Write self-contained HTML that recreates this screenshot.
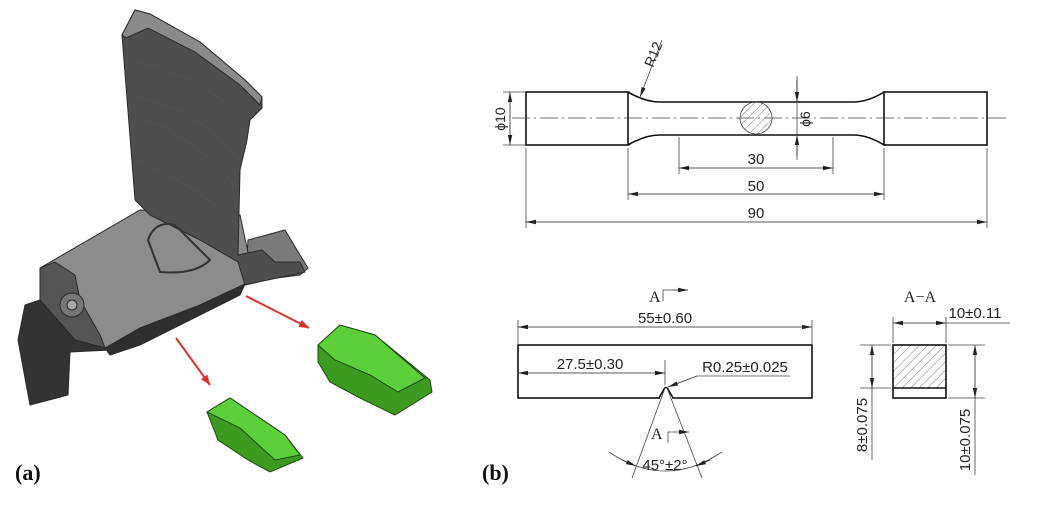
<!DOCTYPE html>
<html><head><meta charset="utf-8"><style>
html,body{margin:0;padding:0;background:#fff;width:1048px;height:515px;overflow:hidden}
svg{display:block}
text{font-family:"Liberation Sans",sans-serif;fill:#222}
.s{font-family:"Liberation Serif",serif}
</style></head><body>
<svg width="1048" height="515" viewBox="0 0 1048 515" xmlns="http://www.w3.org/2000/svg">
<defs>
<marker id="ar" viewBox="0 0 10 6" refX="10" refY="3" markerWidth="10" markerHeight="6" orient="auto-start-reverse" markerUnits="userSpaceOnUse"><path d="M0,0.8 L10,3 L0,5.2 z" fill="#222"/></marker>
<marker id="rr" viewBox="0 0 10 8" refX="10" refY="4" markerWidth="10" markerHeight="8" orient="auto" markerUnits="userSpaceOnUse"><path d="M0,0 L10,4 L0,8 z" fill="#e0302a"/></marker>
<pattern id="h" width="6" height="6" patternUnits="userSpaceOnUse" patternTransform="rotate(45)"><line x1="0" y1="0" x2="0" y2="6" stroke="#555" stroke-width="0.8"/></pattern>
</defs>

<!-- (a) 3D part -->
<g stroke="#2a2a2a" stroke-width="1">
<path d="M248,240 L285,230 L300,255 L308,268 L300,275 L245,282 Z" fill="#7a7a7a"/>
<path d="M40,268 L140,210 L240,215 L250,262 L245,284 L200,305 L135,335 L105,348 L72,338 L40,300 Z" fill="#8c8c8c"/>
<path d="M122,35 L135,10 L150,14 L200,42 L245,80 L262,97 L262,108 L250,120 L247,140 L240,170 L238,255 L262,250 L275,262 L300,262 L305,272 L245,285 L238,262 L200,240 L150,215 L135,200 Z" fill="#4e4e4e"/>
<path d="M122,35 L135,10 L150,14 L200,42 L245,80 L262,97 L260,105 L240,85 L195,52 L148,28 L126,38 Z" fill="#8a8a8a"/>
<path d="M40,300 L40,268 L55,262 L75,275 L80,300 L100,335 L105,348 L75,340 Z" fill="#555"/>
<path d="M18,340 L25,305 L40,300 L75,340 L105,348 L110,350 L70,352 L68,395 L30,405 Z" fill="#333"/>
<path d="M105,348 L140,328 L200,305 L245,284 L240,295 L200,315 L140,345 L110,355 Z" fill="#2e2e2e"/>
<path d="M148,240 Q155,220 175,225 L210,260 Q195,275 160,272 Z" fill="none" stroke="#333" stroke-width="2"/>
<circle cx="72" cy="305" r="12" fill="#777"/><circle cx="72" cy="305" r="5" fill="#aaa"/>
</g>
<g stroke="#555" stroke-width="0.8" fill="none">
<path d="M132,60 Q200,75 245,120"/><path d="M132,95 Q200,110 240,160"/><path d="M134,115 Q195,135 238,190"/><path d="M136,160 Q190,180 238,225"/>
</g>
<!-- green pieces -->
<g stroke="#1e4a10" stroke-width="1">
<path d="M318,345 L340,325 L375,335 L430,380 L432,392 L395,415 L360,398 L330,382 L318,362 Z" fill="#3c9a1e"/>
<path d="M318,345 L340,325 L375,335 L425,378 L398,392 L370,375 L335,360 Z" fill="#5ccf3a"/>
<path d="M207,412 L230,398 L285,435 L303,458 L270,472 L248,460 L218,440 Z" fill="#3c9a1e"/>
<path d="M207,412 L230,398 L285,435 L300,455 L275,460 L240,428 Z" fill="#5ccf3a"/>
</g>
<line x1="246" y1="296" x2="309" y2="328" stroke="#e0302a" stroke-width="2" marker-end="url(#rr)"/>
<line x1="176" y1="338" x2="210" y2="385" stroke="#e0302a" stroke-width="2" marker-end="url(#rr)"/>
<text x="15" y="480" class="s" font-size="22" font-weight="bold" style="fill:#111">(a)</text>
<text x="482" y="480" class="s" font-size="22" font-weight="bold" style="fill:#111">(b)</text>

<!-- top specimen -->
<g stroke="#111" stroke-width="1.6" fill="none">
<rect x="526" y="92" width="102" height="53"/>
<rect x="884" y="92" width="103" height="53"/>
<path d="M628,92 Q645,102 660,102 L853,102 Q868,102 884,92"/>
<path d="M628,145 Q645,135 660,135 L853,135 Q868,135 884,145"/>
</g>
<circle cx="756" cy="118" r="16" fill="url(#h)" stroke="#444" stroke-width="0.8"/>
<line x1="512" y1="118" x2="1008" y2="118" stroke="#444" stroke-width="0.8" stroke-dasharray="18,4,2,4"/>
<g stroke="#444" stroke-width="0.8" fill="none">
<line x1="503" y1="92" x2="526" y2="92"/><line x1="503" y1="145" x2="526" y2="145"/>
<line x1="526" y1="148" x2="526" y2="228"/><line x1="987" y1="148" x2="987" y2="228"/>
<line x1="628" y1="148" x2="628" y2="200"/><line x1="884" y1="148" x2="884" y2="200"/>
<line x1="679" y1="137" x2="679" y2="174"/><line x1="833" y1="137" x2="833" y2="174"/>
<line x1="797" y1="76" x2="797" y2="160"/>
<line x1="662" y1="40" x2="640" y2="97" marker-end="url(#ar)"/>
</g>
<g stroke="#222" stroke-width="0.8">
<line x1="510" y1="92" x2="510" y2="145" marker-start="url(#ar)" marker-end="url(#ar)"/>
<line x1="679" y1="168" x2="833" y2="168" marker-start="url(#ar)" marker-end="url(#ar)"/>
<line x1="628" y1="194" x2="884" y2="194" marker-start="url(#ar)" marker-end="url(#ar)"/>
<line x1="526" y1="222" x2="987" y2="222" marker-start="url(#ar)" marker-end="url(#ar)"/>
<line x1="797" y1="80" x2="797" y2="102" marker-end="url(#ar)"/>
<line x1="797" y1="156" x2="797" y2="135" marker-end="url(#ar)"/>
</g>
<text x="756" y="164" font-size="15" text-anchor="middle">30</text>
<text x="756" y="191" font-size="15" text-anchor="middle">50</text>
<text x="756" y="218" font-size="15" text-anchor="middle">90</text>
<text transform="translate(505,119) rotate(-90)" font-size="14" text-anchor="middle">ϕ10</text>
<text transform="translate(810,119) rotate(-90)" font-size="14" text-anchor="middle">ϕ6</text>
<text transform="translate(653,68) rotate(-68)" font-size="14">R12</text>

<!-- bottom left -->
<rect x="518" y="345" width="294" height="53" fill="none" stroke="#111" stroke-width="1.6"/>
<path d="M659,398 L664,389 Q666,386 668,389 L673,398" fill="#fff" stroke="#111" stroke-width="1.6"/>
<line x1="660" y1="398" x2="672" y2="398" stroke="#fff" stroke-width="2"/>
<g stroke="#444" stroke-width="0.8" fill="none">
<line x1="518" y1="320" x2="518" y2="344"/><line x1="812" y1="320" x2="812" y2="344"/>
<line x1="665" y1="360" x2="665" y2="385"/>
<line x1="697" y1="376" x2="790" y2="376"/>
<line x1="665" y1="388" x2="632" y2="478"/><line x1="667" y1="388" x2="702" y2="478"/>
<path d="M609,452 Q665,490 722,452"/>
<path d="M663,301 L663,290 L672,290"/><path d="M668,443 L668,432 L678,432"/>
</g>
<g stroke="#222" stroke-width="0.8">
<line x1="518" y1="327" x2="812" y2="327" marker-start="url(#ar)" marker-end="url(#ar)"/>
<line x1="518" y1="373" x2="665" y2="373" marker-start="url(#ar)" marker-end="url(#ar)"/>
<line x1="697" y1="376" x2="668" y2="387" marker-end="url(#ar)"/>
<line x1="672" y1="290" x2="688" y2="290" marker-end="url(#ar)"/>
<line x1="678" y1="432" x2="689" y2="432" marker-end="url(#ar)"/>
<line x1="622" y1="460" x2="636" y2="466" marker-end="url(#ar)"/>
<line x1="710" y1="460" x2="696" y2="466" marker-end="url(#ar)"/>
</g>
<text x="665" y="323" font-size="15" text-anchor="middle">55±0.60</text>
<text x="590" y="369" font-size="15" text-anchor="middle">27.5±0.30</text>
<text x="745" y="372" font-size="15" text-anchor="middle">R0.25±0.025</text>
<text x="665" y="470" font-size="15" text-anchor="middle">45°±2°</text>
<text x="649" y="302" class="s" font-size="16">A</text>
<text x="651" y="439" class="s" font-size="16">A</text>

<!-- section A-A -->
<text x="920" y="302" class="s" font-size="16" text-anchor="middle">A−A</text>
<rect x="893" y="345" width="53" height="43" fill="url(#h)"/>
<rect x="893" y="345" width="53" height="53" fill="none" stroke="#111" stroke-width="1.6"/>
<line x1="893" y1="388" x2="946" y2="388" stroke="#111" stroke-width="1.4"/>
<g stroke="#444" stroke-width="0.8">
<line x1="893" y1="317" x2="893" y2="343"/><line x1="946" y1="317" x2="946" y2="343"/>
<line x1="946" y1="323" x2="1010" y2="323"/>
<line x1="860" y1="345" x2="891" y2="345"/><line x1="860" y1="388" x2="891" y2="388"/>
<line x1="948" y1="345" x2="985" y2="345"/><line x1="948" y1="398" x2="985" y2="398"/>
<line x1="872" y1="388" x2="872" y2="460"/><line x1="975" y1="398" x2="975" y2="475"/>
</g>
<g stroke="#222" stroke-width="0.8">
<line x1="893" y1="323" x2="946" y2="323" marker-start="url(#ar)" marker-end="url(#ar)"/>
<line x1="872" y1="345" x2="872" y2="388" marker-start="url(#ar)" marker-end="url(#ar)"/>
<line x1="975" y1="345" x2="975" y2="398" marker-start="url(#ar)" marker-end="url(#ar)"/>
</g>
<text x="975" y="318" font-size="15" text-anchor="middle">10±0.11</text>
<text transform="translate(867,425) rotate(-90)" font-size="15" text-anchor="middle">8±0.075</text>
<text transform="translate(970,440) rotate(-90)" font-size="15" text-anchor="middle">10±0.075</text>
</svg>
</body></html>
